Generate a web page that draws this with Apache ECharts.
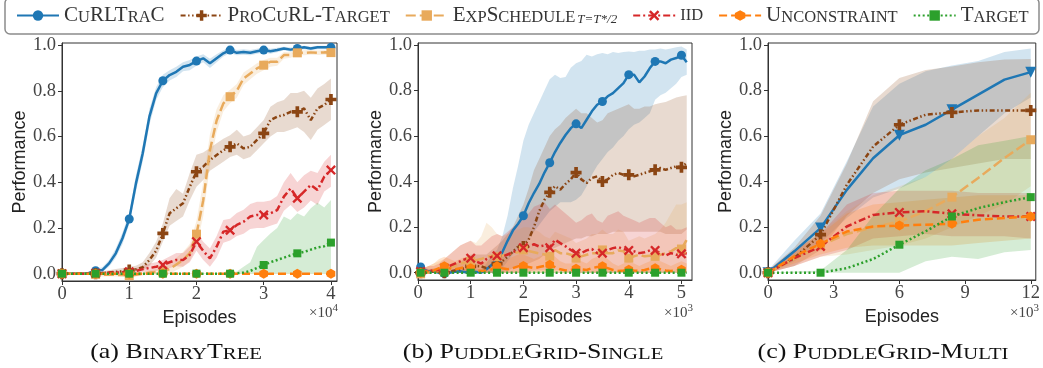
<!DOCTYPE html>
<html>
<head>
<meta charset="utf-8">
<script src="https://cdn.jsdelivr.net/npm/echarts@6/dist/echarts.min.js"></script>
<style>
  html, body { margin: 0; padding: 0; background: #fff; }
  #chart { width: 1043px; height: 368px; }
</style>
</head>
<body>
<div id="chart"></div>
<script>
// ---------- x positions (episodes, in units of the axis multiplier) ----------
const xsA = [0,0.1,0.2,0.3,0.4,0.5,0.6,0.7,0.8,0.9,1.0,1.1,1.2,1.3,1.4,1.5,1.6,1.7,1.8,1.9,2.0,
             2.1,2.2,2.3,2.4,2.5,2.6,2.7,2.8,2.9,3.0,3.1,3.2,3.3,3.4,3.5,3.6,3.7,3.8,3.9,4.0];
const xsB = [0.05,0.1,0.2,0.3,0.4,0.5,0.6,0.7,0.8,0.9,1.0,1.1,1.2,1.3,1.4,1.5,1.6,1.7,1.8,1.9,2.0,
             2.1,2.2,2.3,2.4,2.5,2.6,2.7,2.8,2.9,3.0,3.1,3.2,3.3,3.4,3.5,3.6,3.7,3.8,3.9,4.0,
             4.1,4.2,4.3,4.4,4.5,4.6,4.7,4.8,4.9,5.0,5.1];
const xsC = [0,1.2,2.4,3.6,4.8,6.0,7.2,8.4,9.6,10.8,12.0];

// ---------- (a) BinaryTree: mean, lower, upper ----------
const curlA   = [0,0,0,0,0.003, 0.013,0.016,0.045,0.089,0.155, 0.239,0.395,0.526,0.687,0.789, 0.844,0.869,0.883,0.905,0.913, 0.93,0.942,0.92,0.942,0.964, 0.978,0.966,0.97,0.966,0.973, 0.978,0.973,0.978,0.985,0.98, 0.985,0.99,0.985,0.99,0.99,0.99];
const curlLoA = [0,0,0,0,0, 0.005,0.006,0.03,0.07,0.13, 0.215,0.36,0.49,0.65,0.76, 0.815,0.845,0.86,0.885,0.89, 0.91,0.925,0.9,0.925,0.95, 0.965,0.955,0.958,0.955,0.962, 0.967,0.962,0.968,0.977,0.971, 0.977,0.982,0.977,0.982,0.982,0.982];
const curlHiA = [0.002,0.002,0.002,0.004,0.008, 0.02,0.028,0.06,0.11,0.18, 0.265,0.43,0.56,0.72,0.815, 0.87,0.89,0.905,0.925,0.935, 0.95,0.96,0.94,0.96,0.977, 0.99,0.978,0.982,0.978,0.984, 0.99,0.984,0.988,0.993,0.989, 0.993,0.997,0.993,0.997,0.997,0.997];

const procA   = [0,0,0,0,0, 0,0.002,0.005,0.008,0.01, 0.016,0.019,0.028,0.06,0.1, 0.176,0.264,0.286,0.308,0.38, 0.446,0.468,0.497,0.519,0.54, 0.555,0.57,0.548,0.555,0.585, 0.614,0.672,0.687,0.694,0.708, 0.708,0.723,0.672,0.723,0.738,0.762];
const procLoA = [0,0,0,0,0, 0,0,0,0,0, 0.005,0.008,0.012,0.035,0.07, 0.14,0.21,0.23,0.25,0.32, 0.38,0.41,0.45,0.47,0.49, 0.51,0.52,0.5,0.51,0.54, 0.57,0.6,0.62,0.62,0.63, 0.64,0.62,0.585,0.63,0.65,0.672];
const procHiA = [0.002,0.002,0.002,0.003,0.004, 0.006,0.01,0.015,0.02,0.025, 0.03,0.035,0.05,0.09,0.14, 0.22,0.33,0.37,0.35,0.44, 0.52,0.53,0.55,0.57,0.59, 0.606,0.63,0.6,0.61,0.64, 0.672,0.73,0.75,0.76,0.79, 0.79,0.8,0.77,0.81,0.83,0.854];

const expA    = [0,0,0,0,0, -0.003,-0.005,-0.005,-0.005,-0.006, -0.009,-0.005,0,0.005,0.008, 0.012,0.02,0.04,0.06,0.09, 0.173,0.32,0.54,0.67,0.745, 0.774,0.8,0.854,0.876,0.898, 0.912,0.927,0.927,0.956,0.956, 0.966,0.966,0.968,0.966,0.968,0.967];
const expLoA  = [0,0,0,0,0, -0.01,-0.012,-0.012,-0.012,-0.013, -0.016,-0.012,-0.008,-0.005,-0.005, -0.004,0,0.015,0.03,0.055, 0.12,0.25,0.47,0.62,0.71, 0.745,0.77,0.825,0.85,0.875, 0.89,0.905,0.91,0.94,0.945, 0.955,0.955,0.958,0.956,0.958,0.957];
const expHiA  = [0.002,0.002,0.002,0.002,0.003, 0.004,0.002,0.002,0.002,0.001, -0.002,0.002,0.008,0.015,0.022, 0.03,0.045,0.07,0.095,0.13, 0.23,0.4,0.61,0.72,0.78, 0.805,0.83,0.88,0.9,0.92, 0.935,0.945,0.945,0.97,0.968, 0.977,0.977,0.978,0.976,0.978,0.977];

const iidA    = [0,0,0,0,0, 0.002,0.003,0.004,0.005,0.006, 0.008,0.012,0.02,0.025,0.03, 0.038,0.05,0.06,0.06,0.082, 0.14,0.1,0.067,0.118,0.184, 0.19,0.213,0.227,0.25,0.257, 0.257,0.264,0.278,0.337,0.373, 0.33,0.359,0.388,0.366,0.424,0.453];
const iidLoA  = [0,0,0,0,0, 0,0,0,0,0, 0,0.002,0.008,0.01,0.012, 0.018,0.025,0.032,0.03,0.05, 0.1,0.06,0.03,0.07,0.135, 0.145,0.165,0.175,0.195,0.2, 0.2,0.21,0.22,0.275,0.3, 0.27,0.29,0.32,0.3,0.36,0.38];
const iidHiA  = [0.002,0.002,0.002,0.003,0.004, 0.006,0.008,0.01,0.012,0.014, 0.018,0.025,0.035,0.045,0.05, 0.06,0.075,0.09,0.09,0.12, 0.18,0.14,0.11,0.165,0.235, 0.24,0.265,0.28,0.305,0.315, 0.315,0.32,0.34,0.4,0.44, 0.4,0.43,0.45,0.44,0.49,0.52];

const uncA    = [0,0,0,0,0, 0,0,0,0,0, 0,0,0,0,0, 0,0,0,0,0, 0,0,0,0,0, 0,0,0,0,0, 0,0,0,0,0, 0,0,0,0,0,0];
const uncLoA  = [0,0,0,0,0, 0,0,0,0,0, 0,0,0,0,0, 0,0,0,0,0, 0,0,0,0,0, 0,0,0,0,0, 0,0,0,0,0, 0,0,0,0,0,0];
const uncHiA  = [0.002,0.002,0.002,0.002,0.002, 0.002,0.002,0.002,0.002,0.002, 0.002,0.002,0.002,0.002,0.002, 0.002,0.002,0.002,0.002,0.002, 0.002,0.002,0.002,0.002,0.002, 0.002,0.002,0.002,0.002,0.002, 0.002,0.002,0.002,0.002,0.002, 0.002,0.002,0.002,0.002,0.002,0.002];

const tgtA    = [0,0,0,0,0, 0,0,0,0,0, 0,0,0,0,0, 0,0,0,0,0, 0,0,0,0,0, 0,0.002,0.005,0.012,0.025, 0.038,0.05,0.06,0.07,0.08, 0.089,0.095,0.105,0.115,0.12,0.136];
const tgtLoA  = [0,0,0,0,0, 0,0,0,0,0, 0,0,0,0,0, 0,0,0,0,0, 0,0,0,0,0, 0,0,0,0,0, 0,0,0,0,0, 0,0,0,0,0,0];
const tgtHiA  = [0.001,0.001,0.001,0.001,0.001, 0.001,0.001,0.001,0.001,0.001, 0.001,0.001,0.001,0.001,0.001, 0.001,0.001,0.001,0.001,0.001, 0.001,0.001,0.001,0.001,0.001, 0.003,0.01,0.03,0.05,0.118, 0.147,0.176,0.2,0.25,0.235, 0.264,0.25,0.286,0.31,0.29,0.322];

// ---------- (b) PuddleGrid-Single ----------
const curlB   = [0.025, 0.015,0.005,0.005,0,-0.004, 0,0.004,0.006,0.002,0.006, 0.003,0,0.015,0.035,0.045, 0.09,0.14,0.185,0.215,0.25, 0.305,0.35,0.39,0.44,0.483, 0.53,0.57,0.605,0.635,0.654, 0.635,0.672,0.709,0.738,0.752, 0.775,0.789,0.811,0.833,0.87, 0.87,0.836,0.862,0.899,0.928, 0.928,0.92,0.936,0.943,0.955, 0.924];
const curlLoB = [0.005, 0,0,0,0,0, 0,0,0,0,0, 0,0,0,0,0, 0.02,0.05,0.08,0.1,0.12, 0.15,0.18,0.21,0.24,0.27, 0.29,0.31,0.31,0.31,0.32, 0.34,0.38,0.43,0.47,0.5, 0.53,0.55,0.58,0.6,0.63, 0.65,0.66,0.68,0.7,0.76, 0.78,0.79,0.81,0.83,0.86, 0.87];
const curlHiB = [0.04, 0.03,0.015,0.015,0.01,0.005, 0.01,0.015,0.02,0.015,0.02, 0.015,0.015,0.04,0.08,0.1, 0.16,0.25,0.37,0.47,0.58, 0.65,0.7,0.75,0.8,0.85, 0.87,0.855,0.86,0.9,0.92, 0.93,0.957,0.95,0.96,0.965, 0.96,0.97,0.965,0.97,0.972, 0.97,0.975,0.975,0.98,0.98, 0.985,0.98,0.985,0.99,0.994, 0.98];

const procB   = [0, 0,0.003,0.005,0.004,0, 0.005,0.01,0.015,0.02,0.028, 0.03,0.028,0.02,0.03,0.04, 0.05,0.07,0.093,0.115,0.115, 0.145,0.2,0.27,0.32,0.353, 0.38,0.365,0.39,0.41,0.44, 0.41,0.394,0.416,0.423,0.401, 0.41,0.43,0.438,0.43,0.43, 0.423,0.43,0.438,0.445,0.452, 0.46,0.452,0.46,0.467,0.463, 0.482];
const procLoB = [0, 0,0,0,0,0, 0,0,0,0,0, 0,0,0,0,0, 0,0.01,0.02,0.03,0.03, 0.04,0.05,0.06,0.08,0.1, 0.11,0.12,0.13,0.14,0.15, 0.15,0.16,0.16,0.17,0.17, 0.17,0.18,0.18,0.18,0.18, 0.18,0.18,0.18,0.18,0.18, 0.18,0.17,0.17,0.17,0.17, 0.19];
const procHiB = [0.01, 0.01,0.015,0.02,0.02,0.02, 0.03,0.04,0.05,0.06,0.08, 0.08,0.08,0.08,0.1,0.12, 0.14,0.17,0.2,0.25,0.3, 0.37,0.45,0.5,0.55,0.6, 0.63,0.65,0.68,0.7,0.72, 0.7,0.7,0.68,0.66,0.67, 0.7,0.71,0.72,0.73,0.74, 0.72,0.72,0.73,0.73,0.74, 0.745,0.75,0.76,0.77,0.775, 0.78];

const expB    = [-0.005, 0,0,0.005,0.008,0.01, 0.02,0.03,0.04,0.045,0.05, 0.055,0.06,0.07,0.075,0.07, 0.075,0.08,0.085,0.09,0.1, 0.095,0.09,0.085,0.08,0.073, 0.1,0.086,0.086,0.079,0.064, 0.072,0.079,0.086,0.086,0.1, 0.086,0.086,0.098,0.094,0.064, 0.072,0.079,0.072,0.075,0.072, 0.079,0.086,0.094,0.108,0.104, 0.145];
const expLoB  = [-0.01, 0,0,0,0,0, 0,0,0,0,0, 0,0,0,0,0, 0,0,0,0,0, 0,0,0,0,0, 0,0,0,0,0, 0,0,0,0,0, 0,0,0,0,0, 0,0,0,0,0, 0,0,0,0,0, 0];
const expHiB  = [0.01, 0.02,0.03,0.04,0.05,0.06, 0.08,0.1,0.12,0.13,0.14, 0.13,0.16,0.22,0.2,0.17, 0.16,0.17,0.18,0.19,0.2, 0.2,0.19,0.18,0.16,0.15, 0.18,0.17,0.16,0.15,0.13, 0.14,0.15,0.17,0.17,0.19, 0.17,0.17,0.19,0.18,0.14, 0.15,0.16,0.15,0.16,0.17, 0.19,0.22,0.26,0.3,0.3, 0.31];

const iidB    = [0.005, 0.005,0.01,0.008,0.012,0.02, 0.03,0.04,0.05,0.06,0.064, 0.05,0.04,0.06,0.07,0.074, 0.07,0.08,0.09,0.1,0.11, 0.115,0.125,0.115,0.12,0.11, 0.145,0.13,0.116,0.1,0.086, 0.086,0.098,0.104,0.086,0.086, 0.1,0.108,0.113,0.104,0.098, 0.094,0.086,0.09,0.098,0.098, 0.086,0.075,0.086,0.079,0.083, 0.086];
const iidLoB  = [0, 0,0,0,0,0, 0,0,0,0,0, 0,0,0,0,0, 0,0,0,0,0, 0.005,0.01,0.01,0.01,0.01, 0.01,0.01,0.005,0,0, 0,0,0,0,0, 0,0,0.005,0,0, 0,0,0,0,0, 0,0,0,0,0, 0];
const iidHiB  = [0.02, 0.02,0.03,0.03,0.04,0.06, 0.08,0.1,0.12,0.13,0.14, 0.12,0.12,0.14,0.16,0.17, 0.16,0.18,0.2,0.22,0.24, 0.26,0.29,0.3,0.31,0.28, 0.3,0.28,0.26,0.24,0.22, 0.23,0.25,0.26,0.23,0.22, 0.25,0.26,0.27,0.25,0.24, 0.23,0.22,0.23,0.24,0.24, 0.22,0.2,0.21,0.19,0.19, 0.2];

const uncB    = [0, 0.003,0.005,0.01,0.02,0.028, 0.02,0.015,0.02,0.025,0.02, 0.01,0.008,0.01,0.015,0.028, 0.02,0.015,0.02,0.028,0.03, 0.025,0.02,0.025,0.03,0.035, 0.025,0.015,0.01,0.012,0.017, 0.015,0.012,0.02,0.025,0.028, 0.02,0.012,0.008,0.01,0.013, 0.01,0.008,0.012,0.018,0.02, 0.015,0.01,0.008,0.01,0.013, 0.01];
const uncLoB  = [0, 0,0,0,0,0, 0,0,0,0,0, 0,0,0,0,0, 0,0,0,0,0, 0,0,0,0,0, 0,0,0,0,0, 0,0,0,0,0, 0,0,0,0,0, 0,0,0,0,0, 0,0,0,0,0, 0];
const uncHiB  = [0.01, 0.02,0.03,0.04,0.06,0.07, 0.06,0.05,0.06,0.07,0.06, 0.04,0.04,0.05,0.06,0.08, 0.07,0.06,0.07,0.08,0.08, 0.07,0.06,0.07,0.08,0.09, 0.07,0.05,0.04,0.04,0.05, 0.05,0.04,0.06,0.07,0.08, 0.06,0.04,0.03,0.04,0.05, 0.04,0.03,0.04,0.05,0.06, 0.05,0.04,0.03,0.04,0.05, 0.04];

const tgtB    = [0, 0,0,0,0,0, 0,0,0,0,0, 0,0,0,0,0, 0,0,0,0,0, 0,0,0,0,0, 0,0,0,0,0, 0,0,0,0,0, 0,0,0,0,0, 0,0,0,0,0, 0,0,0,0,0, 0];
const tgtLoB  = [0, 0,0,0,0,0, 0,0,0,0,0, 0,0,0,0,0, 0,0,0,0,0, 0,0,0,0,0, 0,0,0,0,0, 0,0,0,0,0, 0,0,0,0,0, 0,0,0,0,0, 0,0,0,0,0, 0];
const tgtHiB  = [0.004, 0.004,0.004,0.004,0.004,0.004, 0.004,0.004,0.004,0.004,0.004, 0.004,0.004,0.004,0.004,0.004, 0.004,0.004,0.004,0.004,0.004, 0.004,0.004,0.004,0.004,0.004, 0.004,0.004,0.004,0.004,0.004, 0.004,0.004,0.004,0.004,0.004, 0.004,0.004,0.004,0.004,0.004, 0.004,0.004,0.004,0.004,0.004, 0.004,0.004,0.004,0.004,0.004, 0.004];

// ---------- (c) PuddleGrid-Multi ----------
const curlC   = [0, 0.094, 0.196, 0.364, 0.503, 0.604, 0.65, 0.716, 0.782, 0.848, 0.881];
const curlLoC = [0, 0.05, 0.13, 0.24, 0.33, 0.37, 0.42, 0.5, 0.6, 0.7, 0.77];
const curlHiC = [0.01, 0.14, 0.26, 0.49, 0.73, 0.83, 0.885, 0.91, 0.93, 0.97, 0.985];
const procC   = [0, 0.064, 0.167, 0.386, 0.554, 0.65, 0.694, 0.704, 0.713, 0.713, 0.713];
const procLoC = [0, 0.03, 0.1, 0.25, 0.35, 0.41, 0.44, 0.46, 0.48, 0.5, 0.5];
const procHiC = [0.01, 0.11, 0.25, 0.48, 0.753, 0.855, 0.89, 0.906, 0.924, 0.936, 0.939];
const expC    = [0, 0.06, 0.12, 0.17, 0.2, 0.225, 0.27, 0.332, 0.416, 0.504, 0.584];
const expLoC  = [0, 0.03, 0.07, 0.08, 0.1, 0.12, 0.15, 0.2, 0.25, 0.3, 0.38];
const expHiC  = [0.01, 0.1, 0.18, 0.27, 0.34, 0.38, 0.42, 0.5, 0.6, 0.68, 0.79];
const iidC    = [0, 0.064, 0.115, 0.203, 0.254, 0.265, 0.27, 0.259, 0.252, 0.247, 0.247];
const iidLoC  = [0, 0.03, 0.07, 0.1, 0.15, 0.16, 0.17, 0.16, 0.16, 0.16, 0.15];
const iidHiC  = [0.01, 0.1, 0.17, 0.3, 0.35, 0.36, 0.36, 0.36, 0.35, 0.35, 0.35];
const uncC    = [0, 0.072, 0.127, 0.181, 0.203, 0.207, 0.211, 0.215, 0.233, 0.24, 0.247];
const uncLoC  = [0, 0.04, 0.08, 0.11, 0.12, 0.12, 0.12, 0.12, 0.13, 0.14, 0.15];
const uncHiC  = [0.01, 0.1, 0.17, 0.26, 0.3, 0.31, 0.32, 0.33, 0.34, 0.34, 0.34];
const tgtC    = [0, 0, 0, 0.02, 0.06, 0.123, 0.182, 0.247, 0.284, 0.31, 0.332];
const tgtLoC  = [0, 0, 0, 0, 0, 0, 0.05, 0.07, 0.06, 0.09, 0.1];
const tgtHiC  = [0, 0.005, 0.01, 0.1, 0.25, 0.37, 0.45, 0.5, 0.56, 0.58, 0.6];

// ---------- tick labels ----------
const yTicks  = [0, 0.2, 0.4, 0.6, 0.8, 1.0];
const xTicksA = [0, 1, 2, 3, 4];
const xTicksB = [0, 1, 2, 3, 4, 5];
const xTicksC = [0, 3, 6, 9, 12];
const xExponents = ['4', '3', '3'];

// ---------- styling ----------
const PLUS = 'path://M1,0H2V1H3V2H2V3H1V2H0V1H1Z';
const XMARK = 'path://M1,0L3,2L5,0L6,1L4,3L6,5L5,6L3,4L1,6L0,5L2,3L0,1Z';
const HEX = 'path://M0.866,0L1.732,0.5L1.732,1.5L0.866,2L0,1.5L0,0.5Z';

const METHODS = [
  { key: 'curl', name: 'CuRLTraC',       color: '#1f77b4', dash: 'solid',               symbol: 'circle', size: 9 },
  { key: 'proc', name: 'ProCuRL-Target', color: '#8b4513', dash: [5, 2.5, 1.5, 2.5, 1.5, 2.5], symbol: PLUS, size: 11 },
  { key: 'exp',  name: 'ExpSchedule',    color: '#e8aa5c', dash: [10, 4],             symbol: 'rect',   size: 9 },
  { key: 'iid',  name: 'iid',            color: '#d62728', dash: [7, 3, 2, 3],        symbol: XMARK,    size: 10 },
  { key: 'unc',  name: 'Unconstraint',   color: '#ff7f0e', dash: [8, 4],              symbol: HEX,      size: 10 },
  { key: 'tgt',  name: 'Target',         color: '#2ca02c', dash: [2, 2.5],            symbol: 'rect',   size: 8 }
];

const onHalf = (i, x) => Math.abs(x * 2 - Math.round(x * 2)) < 1e-9;
const PANELS = [
  { xs: xsA, min: 0, max: 4.09, ticks: xTicksA, left: 62,  width: 275, height: 238,
    marked: onHalf,
    data: { curl: [curlA, curlLoA, curlHiA], proc: [procA, procLoA, procHiA], exp: [expA, expLoA, expHiA],
            iid: [iidA, iidLoA, iidHiA], unc: [uncA, uncLoA, uncHiA], tgt: [tgtA, tgtLoA, tgtHiA] } },
  { xs: xsB, min: 0, max: 5.2, ticks: xTicksB, left: 418, width: 274, height: 237,
    marked: (i, x) => i === 0 || onHalf(i, x),
    data: { curl: [curlB, curlLoB, curlHiB], proc: [procB, procLoB, procHiB], exp: [expB, expLoB, expHiB],
            iid: [iidB, iidLoB, iidHiB], unc: [uncB, uncLoB, uncHiB], tgt: [tgtB, tgtLoB, tgtHiB] } },
  { xs: xsC, min: 0, max: 12.23, ticks: xTicksC, left: 768, width: 270, height: 237,
    marked: (i) => [0, 2, 5, 7, 10].indexOf(i) >= 0,
    data: { curl: [curlC, curlLoC, curlHiC], proc: [procC, procLoC, procHiC], exp: [expC, expLoC, expHiC],
            iid: [iidC, iidLoC, iidHiC], unc: [uncC, uncLoC, uncHiC], tgt: [tgtC, tgtLoC, tgtHiC] } }
];

const SERIF = '"Liberation Serif", "DejaVu Serif", serif';
const SANS = '"Liberation Sans", "DejaVu Sans", sans-serif';

// shaded spread: one polygon per method, upper edge forward then lower edge back
function bandRenderer(xs, lo, hi, color) {
  return function (params, api) {
    if (params.dataIndex !== 0) return null;
    const pts = [];
    for (let i = 0; i < xs.length; i++) pts.push(api.coord([xs[i], hi[i]]));
    for (let i = xs.length - 1; i >= 0; i--) pts.push(api.coord([xs[i], lo[i]]));
    const cs = params.coordSys;
    return {
      type: 'polygon',
      shape: { points: pts },
      style: { fill: color, opacity: 0.2 },
      clipPath: { type: 'rect', shape: { x: cs.x, y: cs.y, width: cs.width, height: cs.height } }
    };
  };
}

const grids = [], xAxes = [], yAxes = [], bandSeries = [], lineSeries = [];
PANELS.forEach((p, g) => {
  grids.push({ left: p.left, top: 43, width: p.width, height: p.height, show: true,
               borderColor: '#333', borderWidth: 1, backgroundColor: 'transparent' });
  xAxes.push({
    gridIndex: g, type: 'value', min: p.min, max: p.max,
    name: 'Episodes', nameLocation: 'middle', nameGap: 22,
    nameTextStyle: { fontFamily: SANS, fontSize: 18, color: '#222' },
    axisLine: { show: true, onZero: false, lineStyle: { color: '#333', width: 1 } },
    axisTick: { show: true, inside: false, length: 4, customValues: p.ticks, lineStyle: { color: '#333' } },
    axisLabel: { customValues: p.ticks, fontFamily: SERIF, fontSize: 18.5, color: '#444', margin: 4 },
    splitLine: { show: false }
  });
  yAxes.push({
    gridIndex: g, type: 'value', min: -0.032, max: 1.009,
    name: 'Performance', nameLocation: 'middle', nameGap: 30,
    nameTextStyle: { fontFamily: SANS, fontSize: 18, color: '#222' },
    axisLine: { show: true, lineStyle: { color: '#333', width: 1 } },
    axisTick: { show: true, inside: false, length: 4, customValues: yTicks, lineStyle: { color: '#333' } },
    axisLabel: { customValues: yTicks, formatter: v => v.toFixed(1), fontFamily: SERIF, fontSize: 18.5, color: '#444', margin: 6 },
    splitLine: { show: false }
  });

  METHODS.forEach(m => {
    const [mean, lo, hi] = p.data[m.key];
    bandSeries.push({
      type: 'custom', name: m.key + '-band', coordinateSystem: 'cartesian2d',
      xAxisIndex: g, yAxisIndex: g, z: 1, silent: true,
      encode: { x: 0, y: [1, 2] },
      data: p.xs.map((x, i) => [x, lo[i], hi[i]]),
      renderItem: bandRenderer(p.xs, lo, hi, m.color)
    });
    const isCurlMulti = (g === 2 && m.key === 'curl');
    lineSeries.push({
      type: 'line', name: m.name, xAxisIndex: g, yAxisIndex: g, z: 3,
      symbol: isCurlMulti ? 'triangle' : m.symbol,
      symbolRotate: isCurlMulti ? 180 : 0,
      symbolSize: isCurlMulti ? 11 : m.size,
      symbolKeepAspect: true,
      showSymbol: true,
      lineStyle: { color: m.color, width: 2.5, type: m.dash, cap: 'butt' },
      itemStyle: { color: m.color, borderWidth: 0 },
      emphasis: { disabled: true },
      data: p.xs.map((x, i) => p.marked(i, x) ? [x, mean[i]] : { value: [x, mean[i]], symbol: 'none' })
    });
  });
});

// legend labels written in small capitals
const LEGEND_LABELS = {
  'CuRLTraC': '{c|C}{s|U}{c|RLT}{s|RA}{c|C}',
  'ProCuRL-Target': '{c|P}{s|RO}{c|C}{s|U}{c|RL-T}{s|ARGET}',
  'ExpSchedule': '{c|E}{s|XP}{c|S}{s|CHEDULE}{sub|T=T*/2}',
  'iid': '{s|IID}',
  'Unconstraint': '{c|U}{s|NCONSTRAINT}',
  'Target': '{c|T}{s|ARGET}'
};
const CAPTIONS = [
  { x: 176, text: '{c|(a) B}{s|INARY}{c|T}{s|REE}' },
  { x: 533, text: '{c|(b) P}{s|UDDLE}{c|G}{s|RID}{c|-S}{s|INGLE}' },
  { x: 883, text: '{c|(c) P}{s|UDDLE}{c|G}{s|RID}{c|-M}{s|ULTI}' }
];

const graphics = [
  { type: 'rect', shape: { x: 5, y: -2, width: 1034, height: 36, r: 5 }, z: 0,
    style: { fill: 'none', stroke: '#8c8c8c', lineWidth: 1.5 } }
];
PANELS.forEach((p, g) => {
  graphics.push({
    type: 'text', x: p.left + p.width + 1, y: 303, z: 10,
    style: {
      text: '{a|×10}{e|' + xExponents[g] + '}', align: 'right', verticalAlign: 'top',
      rich: {
        a: { fontFamily: SERIF, fontSize: 15, fill: '#444', verticalAlign: 'bottom', lineHeight: 18 },
        e: { fontFamily: SERIF, fontSize: 11, fill: '#444', verticalAlign: 'top', lineHeight: 18 }
      }
    }
  });
});
CAPTIONS.forEach(c => {
  graphics.push({
    type: 'text', x: c.x, y: 352, z: 10, scaleX: 1.18,
    style: {
      text: c.text, align: 'center', verticalAlign: 'middle',
      rich: {
        c: { fontFamily: SERIF, fontSize: 22, fill: '#111', verticalAlign: 'bottom' },
        s: { fontFamily: SERIF, fontSize: 17.5, fill: '#111', verticalAlign: 'bottom' }
      }
    }
  });
});

const chart = echarts.init(document.getElementById('chart'), null, { renderer: 'canvas' });
chart.setOption({
  animation: false,
  backgroundColor: '#fff',
  grid: grids,
  xAxis: xAxes,
  yAxis: yAxes,
  legend: {
    data: METHODS.map(m => m.name),
    left: 11, top: 0,
    itemWidth: 42, itemHeight: 13, itemGap: 15,
    selectedMode: false,
    formatter: name => LEGEND_LABELS[name],
    textStyle: {
      color: '#333', fontFamily: SERIF, fontSize: 21,
      rich: {
        c: { fontFamily: SERIF, fontSize: 21, color: '#333', verticalAlign: 'bottom' },
        s: { fontFamily: SERIF, fontSize: 16.5, color: '#333', verticalAlign: 'bottom' },
        sub: { fontFamily: SERIF, fontSize: 13, fontStyle: 'italic', color: '#333', verticalAlign: 'bottom', padding: [8, 0, 0, 2] }
      }
    }
  },
  graphic: graphics,
  series: bandSeries.concat(lineSeries)
});
</script>
</body>
</html>
